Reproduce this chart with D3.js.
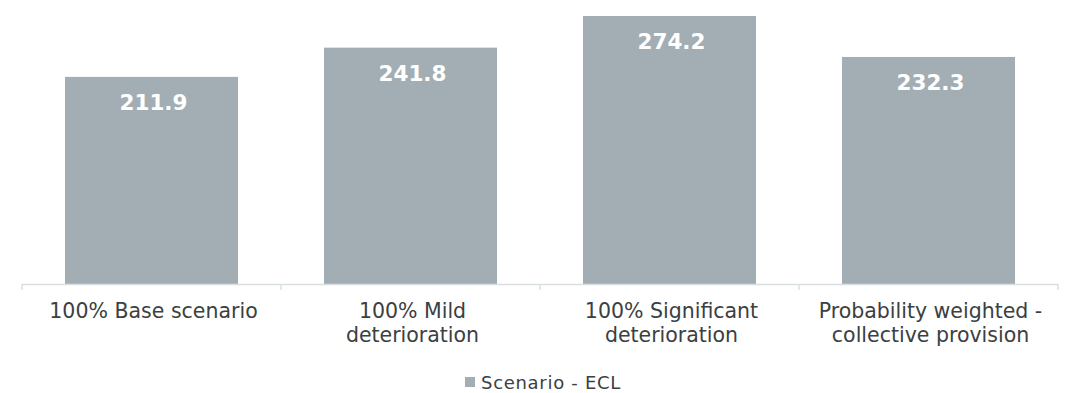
<!DOCTYPE html>
<html><head><meta charset="utf-8">
<script src="https://cdn.jsdelivr.net/npm/d3@7"></script>
<style>html,body{margin:0;padding:0;background:#fff;}svg{display:block;}</style>
</head><body>
<svg id="chart" width="1073" height="393"></svg>
<script>
const categories = ["100% Base scenario","100% Mild deterioration","100% Significant deterioration","Probability weighted - collective provision"];
const categoryLines = [["100% Base scenario"],["100% Mild","deterioration"],["100% Significant","deterioration"],["Probability weighted -","collective provision"]];
const values = [211.9, 241.8, 274.2, 232.3];
const valueLabels = ["211.9","241.8","274.2","232.3"];
const seriesName = "Scenario - ECL";

const FONT = "'DejaVu Sans', sans-serif";
const svg = d3.select("#chart");
const x = d3.scaleBand().domain(categories).range([22, 1058]).paddingInner(0.332).paddingOuter(0.166);
const y = d3.scaleLinear().domain([0, 290]).range([284, 0.55]);

svg.append("g").selectAll("rect").data(values).join("rect")
  .attr("x", (d,i)=>x(categories[i])).attr("width", x.bandwidth())
  .attr("y", d=>y(d)).attr("height", d=>y(0)-y(d)).attr("fill", "#a3aeb4");

svg.append("g").selectAll("text").data(values).join("text")
  .attr("x", (d,i)=>x(categories[i])+x.bandwidth()/2 + 2).attr("y", d=>y(d)+33)
  .attr("text-anchor","middle").attr("fill","#fff").attr("font-family",FONT)
  .attr("font-weight","700").attr("font-size","21.5px")
  .text((d,i)=>valueLabels[i]);

// axis
const step = x.step();
const axisG = svg.append("g");
axisG.append("line").attr("x1",22).attr("x2",1058).attr("y1",284.5).attr("y2",284.5)
  .attr("stroke","#d9dfdf").attr("stroke-width",1.5);
const tickXs = categories.map(c => x(c) - x.paddingInner()*step/2).concat([1058]);
axisG.selectAll("line.tick").data(tickXs).join("line").attr("class","tick")
  .attr("x1",d=>d).attr("x2",d=>d).attr("y1",284).attr("y2",290)
  .attr("stroke","#d9dfdf").attr("stroke-width",1.5);

const labG = svg.append("g");
categoryLines.forEach((lines,i)=>{
  lines.forEach((ln,j)=>{
    labG.append("text").attr("x", x(categories[i])+x.bandwidth()/2 + 2).attr("y", 318 + j*24.2)
      .attr("text-anchor","middle").attr("fill","#3b4041").attr("font-family",FONT)
      .attr("font-size","20.5px").text(ln);
  });
});

// legend
const lg = svg.append("g");
lg.append("rect").attr("x",465).attr("y",377).attr("width",10).attr("height",10).attr("fill","#a3aeb4");
lg.append("text").attr("x",481).attr("y",388.5).attr("fill","#3b4041").attr("font-family",FONT)
  .attr("font-size","18px").attr("letter-spacing","0.7px").text(seriesName);
</script>
</body></html>
